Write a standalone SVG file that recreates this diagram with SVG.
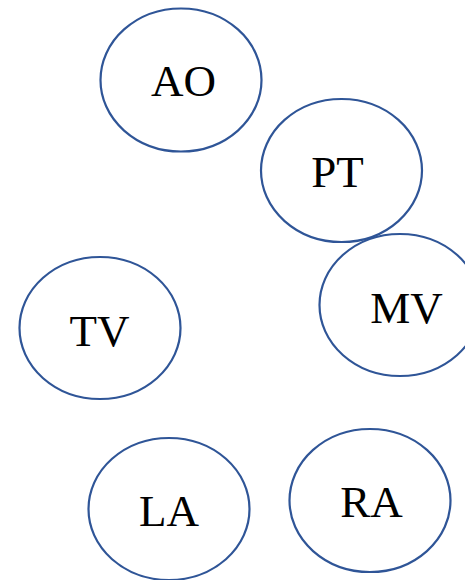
<svg xmlns="http://www.w3.org/2000/svg" width="465" height="580" viewBox="0 0 465 580">
<style>
.n{fill:#fff;stroke:#2F5597;stroke-width:2.2}
.t{font-family:"Liberation Serif","Times New Roman",serif;font-size:45px;fill:#000;text-anchor:middle}
</style>
<rect width="465" height="580" fill="#fff"/>
<g id="connectors"></g>
<g id="AO"><ellipse class="n" cx="181" cy="80" rx="80.5" ry="71.5"/><text class="t" x="183.5" y="96">AO</text></g>
<g id="PT"><ellipse class="n" cx="341.5" cy="170.5" rx="80.5" ry="71.5"/><text class="t" x="337.5" y="187">PT</text></g>
<g id="MV"><ellipse class="n" cx="400" cy="305" rx="80.5" ry="71"/><text class="t" x="406.5" y="323">MV</text></g>
<g id="TV"><ellipse class="n" cx="100" cy="328" rx="80.5" ry="71"/><text class="t" x="99.5" y="346">TV</text></g>
<g id="LA"><ellipse class="n" cx="169" cy="509" rx="80.5" ry="71"/><text class="t" x="169" y="526">LA</text></g>
<g id="RA"><ellipse class="n" cx="370" cy="500.5" rx="80.5" ry="71.5"/><text class="t" x="371.5" y="517">RA</text></g>
</svg>
